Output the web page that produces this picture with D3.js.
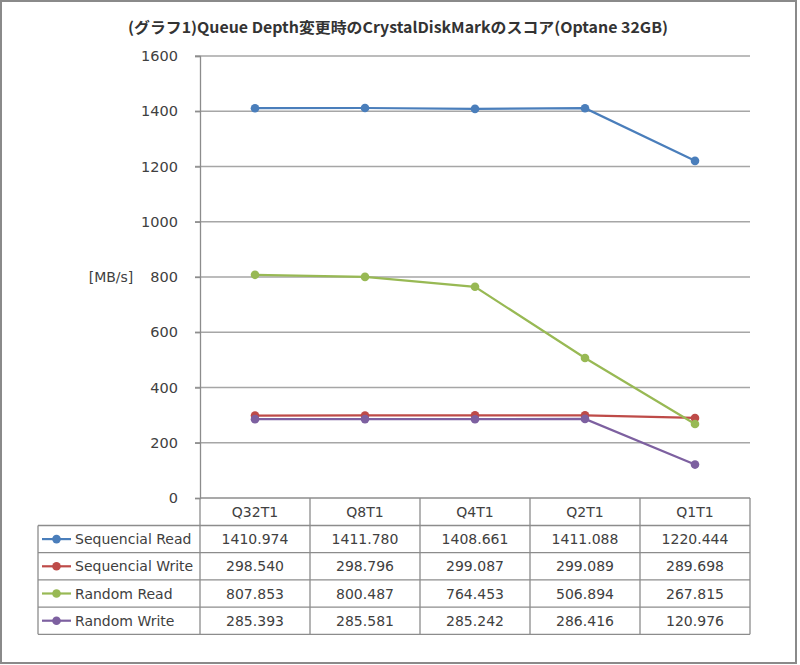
<!DOCTYPE html>
<html><head><meta charset="utf-8">
<script src="https://cdn.jsdelivr.net/npm/d3@7/dist/d3.min.js"></script>
<style>body{margin:0;background:#fff}svg{display:block}</style>
</head><body>
<svg id="c" width="800" height="665"></svg>
<script>
const title = "(グラフ1)Queue Depth変更時のCrystalDiskMarkのスコア(Optane 32GB)";
const categories = ["Q32T1","Q8T1","Q4T1","Q2T1","Q1T1"];
const seriesNames = ["Sequencial Read","Sequencial Write","Random Read","Random Write"];
const seqRead = [1410.974,1411.780,1408.661,1411.088,1220.444];
const seqWrite = [298.540,298.796,299.087,299.089,289.698];
const randRead = [807.853,800.487,764.453,506.894,267.815];
const randWrite = [285.393,285.581,285.242,286.416,120.976];
const colors = ["#4A7EBB","#BE4B48","#98B954","#7D60A0"];
const yTicks = [0,200,400,600,800,1000,1200,1400,1600];
const yUnit = "[MB/s]";

const series = [seqRead, seqWrite, randRead, randWrite];
const svg = d3.select("#c");
const font = "DejaVu Sans, Verdana, sans-serif";
const txt = "#404040";

svg.append("rect").attr("x",1).attr("y",1).attr("width",795).attr("height",662)
  .attr("fill","#fff").attr("stroke","#8a8a8a").attr("stroke-width",2);

svg.append("text").attr("x",398).attr("y",33).attr("text-anchor","middle")
  .attr("font-family","'Noto Sans CJK JP', sans-serif").attr("font-size",15).attr("font-weight","bold")
  .attr("fill","#333").attr("textLength",540).attr("lengthAdjust","spacingAndGlyphs").text(title);

const x = d3.scaleBand().domain(categories).range([200,750]);
const y = d3.scaleLinear().domain([0,1600]).range([498,56]);

// gridlines
svg.append("g").selectAll("line").data(yTicks.filter(d=>d>0)).join("line")
  .attr("x1",195).attr("x2",750).attr("y1",d=>y(d)).attr("y2",d=>y(d))
  .attr("stroke","#a6a6a6").attr("stroke-width",1.3);

// y axis
const ya = svg.append("g").attr("transform","translate(200,0)")
  .call(d3.axisLeft(y).tickValues(yTicks).tickSize(5).tickPadding(17).tickFormat(d3.format("d")));
ya.select(".domain").attr("stroke","#8c8c8c").attr("stroke-width",1.3);
ya.selectAll(".tick line").attr("stroke","#8c8c8c").attr("stroke-width",1.3);
ya.selectAll("text").attr("font-family",font).attr("font-size",14.5).attr("fill",txt);

svg.append("text").attr("x",111).attr("y",y(800)+5).attr("text-anchor","middle")
  .attr("font-family",font).attr("font-size",14).attr("fill",txt).text(yUnit);

// lines
const line = d3.line().x((d,i)=>x(categories[i])+x.bandwidth()/2).y(d=>y(d));
series.forEach((s,k)=>{
  svg.append("path").attr("d",line(s)).attr("fill","none").attr("stroke",colors[k]).attr("stroke-width",2.2);
});
series.forEach((s,k)=>{
  svg.append("g").selectAll("circle").data(s).join("circle")
    .attr("cx",(d,i)=>x(categories[i])+x.bandwidth()/2).attr("cy",d=>y(d)).attr("r",4.3)
    .attr("fill",colors[k]);
});

// data table
const rowTop = 498, headerH = 27.5, rowH = 27.2;
const g = svg.append("g");
const stroke = "#8c8c8c";
// header verticals
categories.forEach((c,i)=>{
  g.append("line").attr("x1",x(c)).attr("x2",x(c)).attr("y1",rowTop).attr("y2",rowTop+headerH+rowH*4).attr("stroke",stroke).attr("stroke-width",1.3);
  g.append("text").attr("x",x(c)+x.bandwidth()/2).attr("y",rowTop+headerH/2+5).attr("text-anchor","middle")
    .attr("font-family",font).attr("font-size",14).attr("fill",txt).text(c);
});
g.append("line").attr("x1",750).attr("x2",750).attr("y1",rowTop).attr("y2",rowTop+headerH+rowH*4).attr("stroke",stroke).attr("stroke-width",1.3);
g.append("line").attr("x1",200).attr("x2",750).attr("y1",rowTop).attr("y2",rowTop).attr("stroke",stroke).attr("stroke-width",1.3);
g.append("line").attr("x1",38).attr("x2",38).attr("y1",rowTop+headerH).attr("y2",rowTop+headerH+rowH*4).attr("stroke",stroke).attr("stroke-width",1.3);
for(let r=0;r<=4;r++){
  const yy = rowTop+headerH+rowH*r;
  g.append("line").attr("x1",38).attr("x2",750).attr("y1",yy).attr("y2",yy).attr("stroke",stroke).attr("stroke-width",1.3);
}
seriesNames.forEach((n,k)=>{
  const cy = rowTop+headerH+rowH*k+rowH/2;
  g.append("line").attr("x1",42).attr("x2",71).attr("y1",cy).attr("y2",cy).attr("stroke",colors[k]).attr("stroke-width",2.2);
  g.append("circle").attr("cx",56.5).attr("cy",cy).attr("r",4.3).attr("fill",colors[k]);
  g.append("text").attr("x",75).attr("y",cy+5).attr("font-family",font).attr("font-size",14).attr("fill",txt).text(n);
  series[k].forEach((v,i)=>{
    g.append("text").attr("x",x(categories[i])+x.bandwidth()/2).attr("y",cy+5).attr("text-anchor","middle")
      .attr("font-family",font).attr("font-size",14).attr("fill",txt).text(d3.format(".3f")(v));
  });
});
</script>
</body></html>
